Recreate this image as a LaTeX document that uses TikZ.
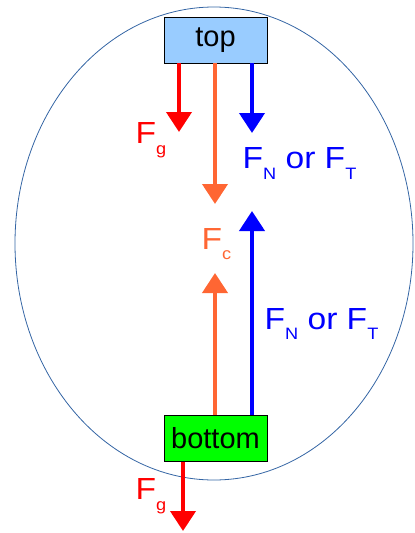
\documentclass[tikz,border=0pt]{standalone}
\usepackage{fontspec}
\setmainfont{Liberation Sans}
\newfontfamily\widesans[FakeStretch=1.1]{Liberation Sans}
\usepackage{tikz}
\usetikzlibrary{arrows.meta, positioning}

\definecolor{boxblue}{RGB}{153,204,255}
\definecolor{boxgreen}{RGB}{0,255,0}
\definecolor{fcorange}{RGB}{255,102,51}
\definecolor{ringblue}{RGB}{52,101,164}

\newcommand{\frc}[1]{F\raisebox{-10.5pt}{\fontsize{16.5}{17}\selectfont #1}}

\begin{document}
\begin{tikzpicture}[x=1pt, y=-1pt,
  place/.style={draw=black, line width=0.8pt, minimum width=103pt, minimum height=46pt,
    inner sep=0pt, font=\fontsize{29}{30}\selectfont},
  lbl/.style={anchor=base west, inner sep=0pt, font=\widesans\fontsize{30.5}{31}\selectfont},
  force/.style={line width=4pt, -{Triangle[width=25pt, length=20pt]}},
  ring/.style={draw=ringblue, line width=0.8pt}]
  \useasboundingbox (0,0) rectangle (415,533);
  \draw[ring] (214,243.5) ellipse [x radius=199, y radius=236.5];
  \node[place, fill=boxblue] (top) at (215.5,40) {top};
  \node[place, fill=boxgreen] (bottom) at (215.5,438.5) {bottom};
  % forces at the top
  \coordinate (fgtop) at (179,132);
  \coordinate (fctop) at (215,204);
  \coordinate (fntop) at (252,133);
  \draw[force, red] (top.south -| fgtop) -- (fgtop);
  \draw[force, fcorange] (top.south -| fctop) -- (fctop);
  \draw[force, blue] (top.south -| fntop) -- (fntop);
  \node[lbl, red] (lfgtop) at (135.5,143.5) {\frc{g}};
  \node[lbl, blue] (lfntop) at (242.5,168.5) {\frc{N} or \frc{T}};
  \node[lbl, fcorange] (lfc) at (201.5,249) {\frc{c}};
  % forces at the bottom
  \coordinate (fcbot) at (215,273);
  \coordinate (fnbot) at (252,211);
  \coordinate (fgbot) at (183,531);
  \draw[force, fcorange] (bottom.north -| fcbot) -- (fcbot);
  \draw[force, blue] (bottom.north -| fnbot) -- (fnbot);
  \draw[force, red] (bottom.south -| fgbot) -- (fgbot);
  \node[lbl, blue] (lfnbot) at (264.5,329) {\frc{N} or \frc{T}};
  \node[lbl, red] (lfgbot) at (135.5,499.5) {\frc{g}};
\end{tikzpicture}
\end{document}
